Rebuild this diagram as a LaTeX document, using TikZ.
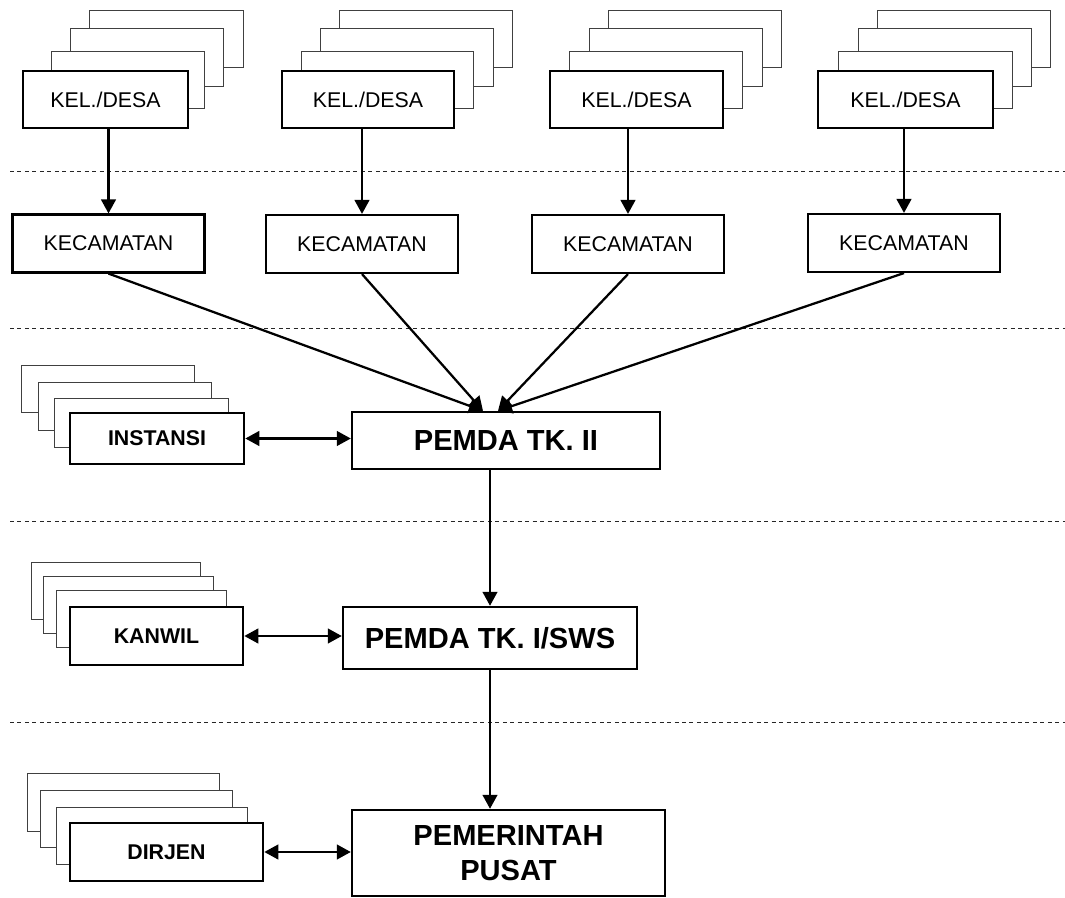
\documentclass[tikz,border=0pt]{standalone}
\usepackage{fontspec}
\setmainfont{Liberation Sans}
\usetikzlibrary{arrows.meta,positioning}

\begin{document}
\begin{tikzpicture}[x=0.75pt,y=-0.75pt,>={Triangle[length=10.5pt,width=11pt]},
	sheet/.style={draw=black!75,line width=0.75pt,fill=white},
	desa/.style={draw,line width=2pt,fill=white,inner sep=0pt,minimum height=42.75pt,font=\fontsize{16}{18}\selectfont},
	kec/.style={draw,line width=1.6pt,inner sep=0pt,minimum width=144pt,minimum height=43.5pt,font=\fontsize{16}{18}\selectfont},
	side/.style={desa,font=\fontsize{16}{18}\selectfont\bfseries},
	pemda/.style={draw,line width=1.8pt,inner sep=0pt,align=center,font=\fontsize{21.8}{26}\selectfont\bfseries},
	flow/.style={->,line width=1.7pt},
	both/.style={<->,line width=1.7pt},
	level/.style={draw=black!85,line width=0.75pt,dash pattern=on 3pt off 2.6pt}]
	\useasboundingbox (0,0) rectangle (1065,898);

	% separators between levels
	\foreach \y in {172,329,522,722}
		\draw[level] (10,\y) -- (1065,\y);

	% sheets behind the front boxes
	\foreach \xa/\ya/\xb/\yb in {89/11/243/68, 70/29/223/87, 51/52/204/109,
		339/11/512/68, 320/29/493/87, 301/52/473/109,
		608/11/781/68, 589/29/762/87, 569/52/742/109,
		877/11/1050/68, 858/29/1031/87, 838/52/1012/109,
		21/366/194/413, 38/383/211/431, 54/399/228/448,
		31/563/200/620, 43/577/213/634, 56/591/226/648,
		27/773/219/831, 40/790/232/847, 56/807/247/864}
		\draw[sheet] (\xa,\ya) rectangle (\xb,\yb);

	\node[desa,minimum width=123.75pt] (desa1) at (105.5,99.5) {KEL./DESA};
	\node[desa,minimum width=129pt] (desa2) at (368,99.5) {KEL./DESA\hspace{12pt}};
	\node[desa,minimum width=129.75pt] (desa3) at (636.5,99.5) {KEL./DESA\hspace{12pt}};
	\node[desa,minimum width=131.25pt] (desa4) at (905.5,99.5) {KEL./DESA\hspace{12pt}};

	\node[kec] (kec1) at (108.5,243.5) {KECAMATAN};
	\node[kec] (kec2) at (362,244) {KECAMATAN};
	\node[kec] (kec3) at (628,244) {KECAMATAN};
	\node[kec] (kec4) at (904,243) {KECAMATAN};

	\node[pemda,minimum width=231pt,minimum height=42.75pt] (pemda2) at (506,440.5) {PEMDA TK. II};
	\node[pemda,minimum width=220.5pt,minimum height=46.5pt] (pemda1) at (490,638) {PEMDA TK. I/SWS};
	\node[pemda,minimum width=234.75pt,minimum height=64.5pt] (pusat) at (508.5,853) {PEMERINTAH\\PUSAT};

	\node[side,minimum width=130.5pt,minimum height=38.25pt] (instansi) at (157,438.5) {INSTANSI};
	\node[side,minimum width=129.75pt,minimum height=43.5pt] (kanwil) at (156.5,636) {KANWIL};
	\node[side,minimum width=144.75pt,minimum height=43.5pt] (dirjen) at (166.5,852) {DIRJEN};

	\foreach \i in {1,...,4}
		\draw[flow] (kec\i.north |- desa\i.south) -- (kec\i.north);

	\draw[flow] (kec1.south) -- ([xshift=-17.25pt]pemda2.north);
	\draw[flow] (kec2.south) -- ([xshift=-17.25pt]pemda2.north);
	\draw[flow] (kec3.south) -- ([xshift=-6pt]pemda2.north);
	\draw[flow] (kec4.south) -- ([xshift=-6pt]pemda2.north);

	\draw[flow] (pemda1.north |- pemda2.south) -- (pemda1.north);
	\draw[flow] (pemda1.south) -- (pemda1.south |- pusat.north);

	\draw[both] (instansi.east) -- (instansi.east -| pemda2.west);
	\draw[both] (kanwil.east) -- (kanwil.east -| pemda1.west);
	\draw[both] (dirjen.east) -- (dirjen.east -| pusat.west);
\end{tikzpicture}
\end{document}
